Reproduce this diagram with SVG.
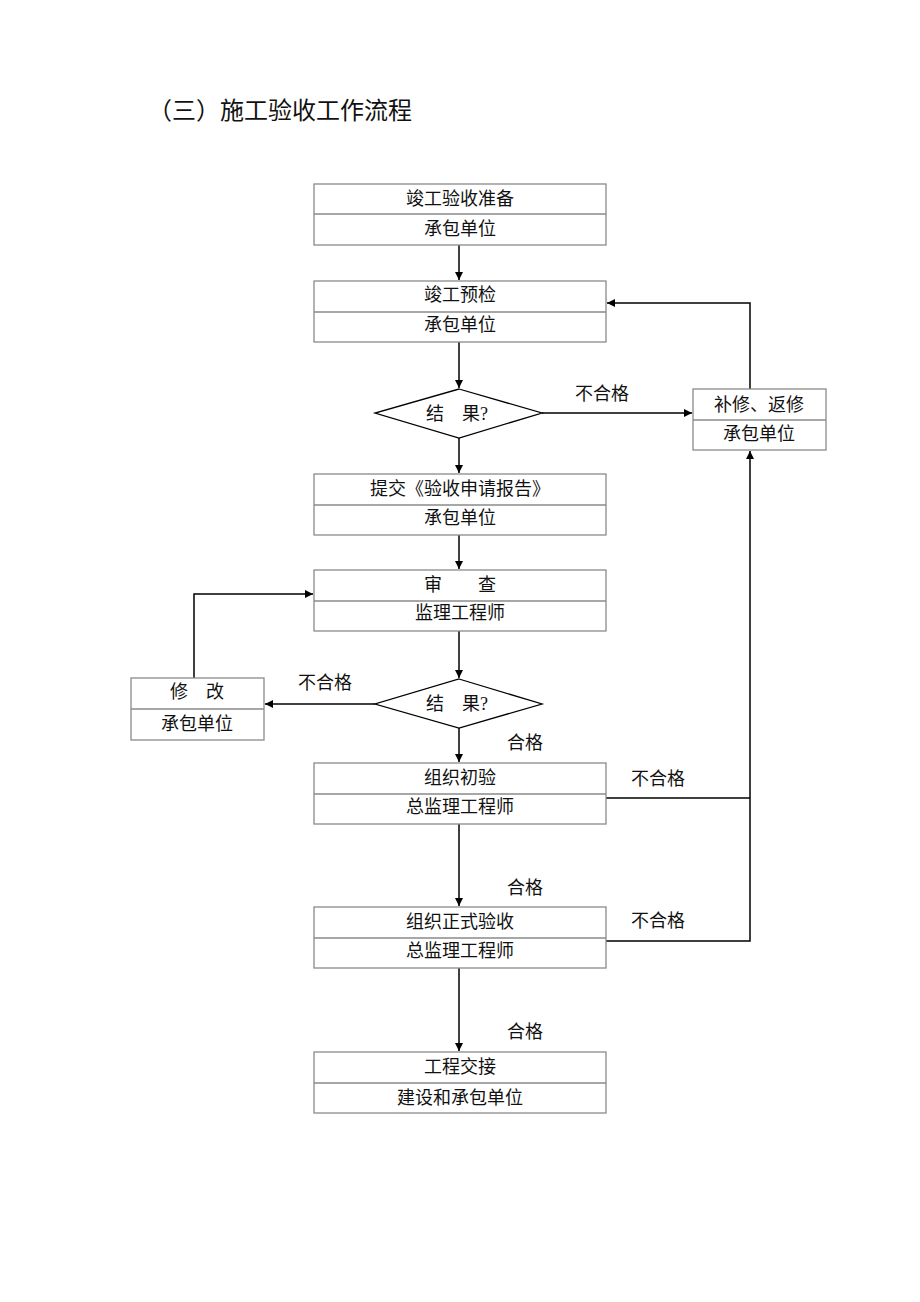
<svg xmlns="http://www.w3.org/2000/svg" width="920" height="1302" viewBox="0 0 920 1302">
<style>
.box{fill:#fff;stroke:#8a8a8a;stroke-width:1.3}
.dia{fill:#fff;stroke:#000;stroke-width:1.3}
.ln{fill:none;stroke:#000;stroke-width:1.5}
text{font-family:"Liberation Serif","Noto Sans CJK SC",serif;font-size:18px;fill:#111;text-anchor:middle;dominant-baseline:central}
.lbl{text-anchor:start}
</style>
<defs>
<marker id="ah" viewBox="0 0 10 10" refX="10" refY="5" markerWidth="8" markerHeight="8" markerUnits="userSpaceOnUse" orient="auto">
<path d="M0,0 L10,5 L0,10 z" fill="#000"/>
</marker>
</defs>
<rect width="920" height="1302" fill="#fff"/>
<text x="148" y="111" style="font-size:24px;text-anchor:start">（三）施工验收工作流程</text>

<g id="connectors">
<line class="ln" x1="459" y1="245" x2="459" y2="280" marker-end="url(#ah)"/>
<line class="ln" x1="459" y1="342" x2="459" y2="388" marker-end="url(#ah)"/>
<line class="ln" x1="542" y1="413" x2="692" y2="413" marker-end="url(#ah)"/>
<line class="ln" x1="459" y1="438" x2="459" y2="473" marker-end="url(#ah)"/>
<line class="ln" x1="459" y1="535" x2="459" y2="569" marker-end="url(#ah)"/>
<line class="ln" x1="459" y1="631" x2="459" y2="678" marker-end="url(#ah)"/>
<line class="ln" x1="375" y1="704" x2="265" y2="704" marker-end="url(#ah)"/>
<polyline class="ln" points="194,678 194,594 313,594" marker-end="url(#ah)"/>
<line class="ln" x1="459" y1="728" x2="459" y2="762" marker-end="url(#ah)"/>
<line class="ln" x1="459" y1="824" x2="459" y2="906" marker-end="url(#ah)"/>
<line class="ln" x1="459" y1="968" x2="459" y2="1051" marker-end="url(#ah)"/>
<polyline class="ln" points="606,798 750,798"/>
<polyline class="ln" points="606,941 750,941 750,451" marker-end="url(#ah)"/>
<polyline class="ln" points="750,389 750,303 607,303" marker-end="url(#ah)"/>
<text class="lbl" x="575" y="394">不合格</text>
<text class="lbl" x="298" y="683">不合格</text>
<text class="lbl" x="507" y="743">合格</text>
<text class="lbl" x="631" y="779">不合格</text>
<text class="lbl" x="507" y="888">合格</text>
<text class="lbl" x="631" y="921">不合格</text>
<text class="lbl" x="507" y="1032">合格</text>
</g>

<g id="n1"><rect class="box" x="314" y="184" width="292" height="61"/><line class="box" x1="314" y1="214" x2="606" y2="214"/>
<text x="460" y="199">竣工验收准备</text><text x="460" y="229">承包单位</text></g>
<g id="n2"><rect class="box" x="314" y="281" width="292" height="61"/><line class="box" x1="314" y1="312" x2="606" y2="312"/>
<text x="460" y="295">竣工预检</text><text x="460" y="325">承包单位</text></g>
<g id="d1"><polygon class="dia" points="459,389 542,413 459,438 375,413"/><text x="457" y="414">结　果?</text></g>
<g id="nr"><rect class="box" x="693" y="389" width="133" height="61"/><line class="box" x1="693" y1="420" x2="826" y2="420"/>
<text x="759" y="405">补修、返修</text><text x="759" y="434">承包单位</text></g>
<g id="n3"><rect class="box" x="314" y="474" width="292" height="61"/><line class="box" x1="314" y1="505" x2="606" y2="505"/>
<text x="460" y="489">提交《验收申请报告》</text><text x="460" y="518">承包单位</text></g>
<g id="n4"><rect class="box" x="314" y="570" width="292" height="61"/><line class="box" x1="314" y1="601" x2="606" y2="601"/>
<text x="460" y="585">审　　查</text><text x="460" y="613">监理工程师</text></g>
<g id="d2"><polygon class="dia" points="459,679 542,704 459,728 375,704"/><text x="457" y="704">结　果?</text></g>
<g id="nl"><rect class="box" x="131" y="678" width="133" height="62"/><line class="box" x1="131" y1="709" x2="264" y2="709"/>
<text x="197" y="692">修　改</text><text x="197" y="724">承包单位</text></g>
<g id="n5"><rect class="box" x="314" y="763" width="292" height="61"/><line class="box" x1="314" y1="794" x2="606" y2="794"/>
<text x="460" y="778">组织初验</text><text x="460" y="807">总监理工程师</text></g>
<g id="n6"><rect class="box" x="314" y="907" width="292" height="61"/><line class="box" x1="314" y1="938" x2="606" y2="938"/>
<text x="460" y="922">组织正式验收</text><text x="460" y="951">总监理工程师</text></g>
<g id="n7"><rect class="box" x="314" y="1052" width="292" height="61"/><line class="box" x1="314" y1="1083" x2="606" y2="1083"/>
<text x="460" y="1067">工程交接</text><text x="460" y="1098">建设和承包单位</text></g>
</svg>
